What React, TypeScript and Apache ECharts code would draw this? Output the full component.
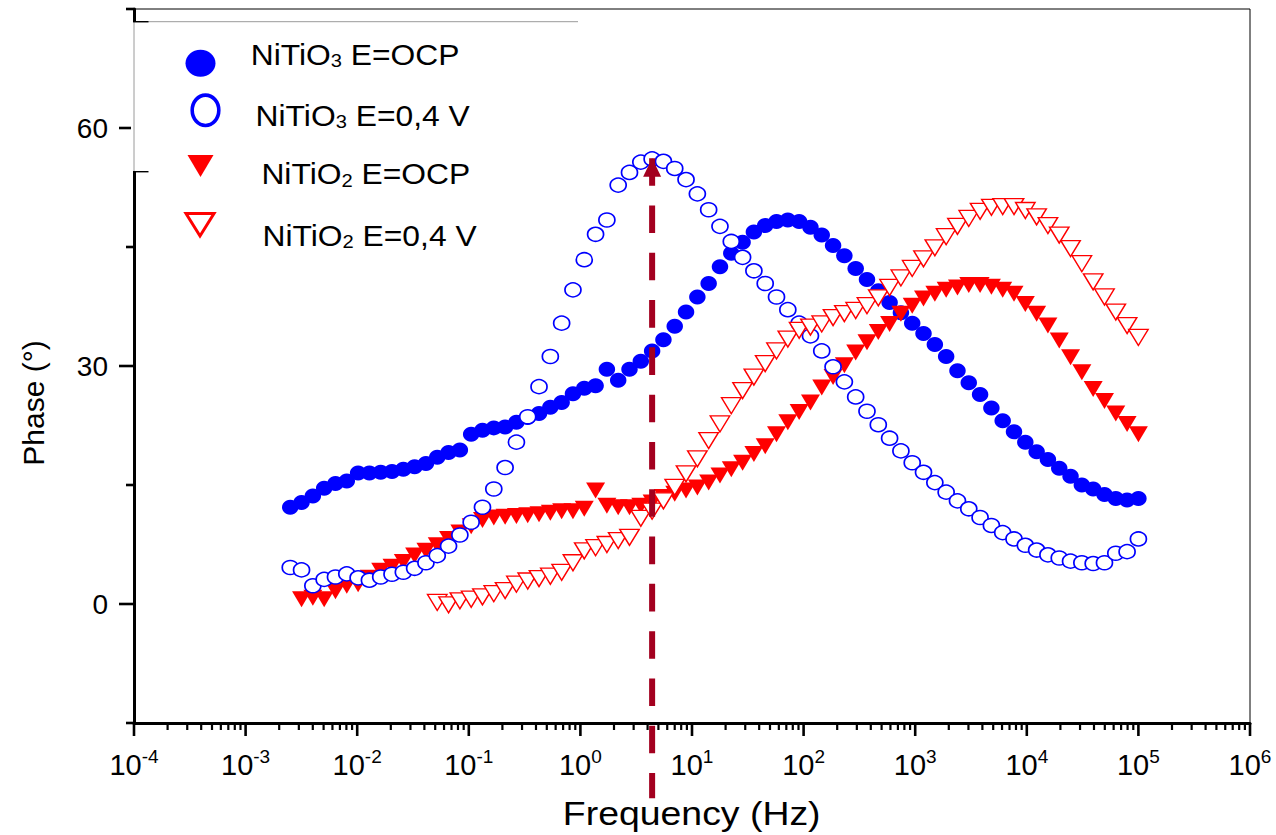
import React, { useEffect, useRef } from 'react';
import * as echarts from 'echarts';

// Measurement frequencies (Hz), 76-point logarithmic sweep, low to high
const FREQ_HZ = [
  0.002512, 0.003172, 0.004005, 0.005058, 0.006387, 0.008065, 0.01019, 0.01286, 0.01624, 0.02051,
  0.0259, 0.0327, 0.0413, 0.05215, 0.06586, 0.08318, 0.105, 0.1326, 0.1675, 0.2115,
  0.2671, 0.3373, 0.4259, 0.5378, 0.6792, 0.8577, 1.083, 1.368, 1.727, 2.181,
  2.754, 3.478, 4.392, 5.546, 7.003, 8.843, 11.17, 14.1, 17.81, 22.49,
  28.4, 35.86, 45.29, 57.19, 72.22, 91.2, 115.2, 145.4, 183.7, 231.9,
  292.9, 369.8, 467, 589.7, 744.7, 940.4, 1187, 1500, 1894, 2392,
  3020, 3814, 4816, 6081, 7679, 9698, 12250, 15460, 19530, 24660,
  31140, 39330, 49660, 62710, 79190, 100000,
];

// NiTiO3, E = OCP (all 76 frequencies)
const PHASE_NITIO3_OCP = [
  12.2, 12.8, 13.6, 14.6, 15.2, 15.5, 16.5, 16.5, 16.6, 16.7,
  17.0, 17.3, 17.7, 18.5, 19.1, 19.4, 21.4, 21.9, 22.2, 22.3,
  22.9, 23.5, 24.0, 24.8, 25.4, 26.5, 27.2, 27.5, 29.6, 28.2,
  29.6, 30.6, 31.9, 33.3, 35.0, 36.8, 38.7, 40.4, 42.5, 44.2,
  45.6, 46.9, 47.7, 48.2, 48.4, 48.2, 47.5, 46.5, 45.2, 43.9,
  42.3, 40.9, 39.5, 38.0, 36.7, 35.4, 34.1, 32.7, 31.2, 29.4,
  27.9, 26.4, 24.7, 23.1, 21.7, 20.4, 19.2, 18.2, 17.1, 16.1,
  15.0, 14.5, 13.8, 13.3, 13.1, 13.3,
];

// NiTiO3, E = 0,4 V (all 76 frequencies)
const PHASE_NITIO3_04V = [
  4.6, 4.3, 2.3, 3.1, 3.4, 3.8, 3.3, 3.0, 3.4, 3.75,
  4.0, 4.5, 5.2, 6.1, 7.3, 8.7, 10.3, 12.2, 14.5, 17.2,
  20.4, 23.6, 27.4, 31.2, 35.4, 39.6, 43.4, 46.6, 48.4, 52.8,
  54.4, 55.7, 56.1, 55.8, 54.9, 53.5, 51.7, 49.7, 47.6, 45.7,
  43.7, 42.0, 40.4, 38.7, 37.1, 35.4, 33.8, 31.9, 29.9, 28.0,
  26.1, 24.3, 22.6, 20.9, 19.3, 17.8, 16.6, 15.3, 14.1, 13.0,
  12.0, 10.9, 9.9, 9.0, 8.2, 7.4, 6.8, 6.2, 5.8, 5.4,
  5.2, 5.1, 5.2, 6.4, 6.6, 8.2,
];

// NiTiO2, E = OCP (frequencies from index 1)
const NITIO2_OCP_START = 1;
const PHASE_NITIO2_OCP = [
  0.6, 0.8, 0.6, 1.6, 2.3, 2.5, 3.3, 4.2, 4.7, 5.3,
  6.1, 6.7, 7.4, 8.2, 9.0, 9.8, 10.6, 10.9, 11.0, 11.1,
  11.2, 11.3, 11.5, 11.7, 11.7, 12.0, 14.3, 12.4, 12.2, 12.2,
  12.4, 12.8, 13.5, 13.9, 14.3, 14.7, 15.3, 16.2, 17.0, 17.8,
  18.9, 19.9, 21.4, 22.9, 24.2, 25.4, 27.3, 28.6, 30.1, 31.7,
  33.0, 34.3, 35.3, 36.6, 37.6, 38.5, 39.1, 39.6, 39.9, 40.2,
  40.2, 40.0, 39.6, 39.1, 37.8, 36.6, 35.1, 33.2, 31.1, 29.2,
  27.1, 25.6, 24.0, 22.7, 21.4,
];

// NiTiO2, E = 0,4 V (frequencies from index 13)
const NITIO2_04V_START = 13;
const PHASE_NITIO2_04V = [
  0.2, -0.1, 0.4, 0.6, 0.9, 1.3, 1.7, 2.5, 2.9, 3.2,
  3.5, 4.0, 5.2, 6.7, 7.1, 7.5, 8.0, 8.4, 10.8, 11.7,
  13.0, 14.7, 16.4, 18.3, 20.6, 22.7, 25.0, 26.9, 28.6, 30.3,
  31.9, 33.4, 34.5, 34.9, 35.3, 36.1, 36.6, 37.0, 37.6, 38.6,
  39.9, 41.1, 42.3, 43.5, 44.9, 46.3, 47.6, 48.6, 49.5, 50.0,
  50.1, 50.1, 49.6, 48.8, 47.7, 46.5, 44.8, 42.9, 40.6, 38.7,
  36.8, 35.1, 33.6,
];

const X_DECADES = [1e-4, 1e-3, 1e-2, 1e-1, 1, 10, 100, 1000, 1e4, 1e5, 1e6];
const X_MINOR_MULTIPLIERS = [2, 3, 4, 5, 6, 7, 8, 9];
const Y_MAJOR_TICKS = [0, 30, 60];
const Y_MINOR_TICKS = [-15, 15, 45, 75];
const Y_MIN = -15;
const Y_MAX = 75;

const ARROW_FREQ = 4.392;
const ARROW_TOP_PHASE = 56.2;
const ARROW_BOTTOM_PHASE = -24.5;

const LEGEND_LABELS = [
  { base: 'NiTiO', sub: '3', rest: ' E=OCP' },
  { base: 'NiTiO', sub: '3', rest: ' E=0,4 V' },
  { base: 'NiTiO', sub: '2', rest: ' E=OCP' },
  { base: 'NiTiO', sub: '2', rest: ' E=0,4 V' },
];

const FONT = '"Liberation Sans", Arial, Helvetica, sans-serif';
const BLUE = '#0000ff';
const RED = '#ff0000';
const ARROW_COLOR = '#a3001f';

function pairs(startIdx: number, values: number[]) {
  return values.map((v, i) => [FREQ_HZ[startIdx + i], v]);
}

export default function App() {
  const ref = useRef<HTMLDivElement>(null);

  useEffect(() => {
    const el = ref.current;
    if (!el) return;
    const chart = echarts.init(el, undefined, { renderer: 'svg' });

    const tickData: number[][] = [];
    X_DECADES.forEach((d) => tickData.push([d, Y_MIN, 0]));
    X_DECADES.slice(0, -1).forEach((d) =>
      X_MINOR_MULTIPLIERS.forEach((m) => tickData.push([d * m, Y_MIN, 1]))
    );
    Y_MAJOR_TICKS.forEach((v) => tickData.push([X_DECADES[0], v, 2]));
    Y_MINOR_TICKS.forEach((v) => tickData.push([X_DECADES[0], v, 3]));

    const option: any = {
      animation: false,
      backgroundColor: '#ffffff',
      grid: {
        left: 134,
        right: 26,
        top: 9,
        bottom: 112,
        show: true,
        borderColor: '#000',
        borderWidth: 1,
        backgroundColor: 'transparent',
      },
      xAxis: {
        type: 'log',
        logBase: 10,
        min: 1e-4,
        max: 1e6,
        splitNumber: 10,
        axisLine: { show: true, onZero: false, lineStyle: { color: '#000', width: 3 } },
        axisTick: { show: false },
        splitLine: { show: false },
        axisLabel: {
          margin: 24,
          fontSize: 29,
          formatter: (v: number) => `{b|10}{e|${Math.round(Math.log10(v))}}`,
          rich: {
            b: { fontSize: 29, fontFamily: FONT, color: '#000', lineHeight: 32, verticalAlign: 'bottom' },
            e: { fontSize: 19, fontFamily: FONT, color: '#000', lineHeight: 12, verticalAlign: 'top' },
          },
        },
      },
      yAxis: {
        type: 'value',
        min: Y_MIN,
        max: Y_MAX,
        interval: 15,
        axisLine: { show: true, onZero: false, lineStyle: { color: '#000', width: 3 } },
        axisTick: { show: false },
        splitLine: { show: false },
        axisLabel: {
          margin: 26,
          fontSize: 28,
          fontFamily: FONT,
          color: '#000',
          formatter: (v: number) => (Y_MAJOR_TICKS.includes(v) ? String(v) : ''),
        },
      },
      series: [
        {
          name: 'NiTiO3 E=OCP',
          type: 'scatter',
          data: pairs(0, PHASE_NITIO3_OCP),
          symbol: 'circle',
          symbolSize: [16.5, 15],
          itemStyle: { color: BLUE, opacity: 1 },
          emphasis: { disabled: true },
          z: 2,
        },
        {
          name: 'NiTiO2 E=OCP',
          type: 'scatter',
          data: pairs(NITIO2_OCP_START, PHASE_NITIO2_OCP),
          symbol: 'triangle',
          symbolRotate: 180,
          symbolSize: [19, 16],
          itemStyle: { color: RED, opacity: 1 },
          emphasis: { disabled: true },
          z: 3,
        },
        {
          name: 'NiTiO3 E=0,4 V',
          type: 'scatter',
          data: pairs(0, PHASE_NITIO3_04V),
          symbol: 'circle',
          symbolSize: [16, 14],
          itemStyle: { color: '#ffffff', borderColor: BLUE, borderWidth: 1.6, opacity: 1 },
          emphasis: { disabled: true },
          z: 4,
        },
        {
          name: 'NiTiO2 E=0,4 V',
          type: 'scatter',
          data: pairs(NITIO2_04V_START, PHASE_NITIO2_04V),
          symbol: 'triangle',
          symbolRotate: 180,
          symbolSize: [19.5, 16],
          itemStyle: { color: '#ffffff', borderColor: RED, borderWidth: 1.4, opacity: 1 },
          emphasis: { disabled: true },
          z: 5,
        },
        {
          name: 'ticks',
          type: 'custom',
          clip: false,
          silent: true,
          z: 6,
          data: tickData,
          renderItem: (params: any, api: any) => {
            const kind = api.value(2);
            const p = api.coord([api.value(0), api.value(1)]);
            if (kind < 2) {
              const len = kind === 0 ? 13 : 7;
              return {
                type: 'line',
                shape: { x1: p[0], y1: p[1], x2: p[0], y2: p[1] + len },
                style: { stroke: '#000', lineWidth: kind === 0 ? 2.6 : 2.2 },
              };
            }
            const len = kind === 2 ? 15 : 8;
            return {
              type: 'line',
              shape: { x1: p[0] - len, y1: p[1], x2: p[0], y2: p[1] },
              style: { stroke: '#000', lineWidth: 2.6 },
            };
          },
        },
      ],
    };

    chart.setOption(option);

    const top = chart.convertToPixel({ gridIndex: 0 }, [ARROW_FREQ, ARROW_TOP_PHASE]) as number[];
    const bot = chart.convertToPixel({ gridIndex: 0 }, [ARROW_FREQ, ARROW_BOTTOM_PHASE]) as number[];

    const legendRows = [
      { tx: 250.7, base: 62.3 },
      { tx: 255.6, base: 123.3 },
      { tx: 261.4, base: 181.7 },
      { tx: 262.5, base: 243.3 },
    ];
    const legendFont = 30;
    const rich = {
      n: { fontSize: legendFont, fontFamily: FONT, color: '#000', lineHeight: 36, verticalAlign: 'bottom' },
      s: { fontSize: 19, fontFamily: FONT, color: '#000', lineHeight: 10, verticalAlign: 'bottom' },
    };
    const legendTexts = LEGEND_LABELS.map((l, i) => ({
      type: 'text',
      id: 'lt' + i,
      x: legendRows[i].tx,
      y: legendRows[i].base - 0.3465 * legendFont,
      z: 120,
      scaleX: 1.06,
      style: {
        text: `{n|${l.base}}{s|${l.sub}}{n|${l.rest}}`,
        rich,
        textAlign: 'left',
        textVerticalAlign: 'middle',
      },
    }));

    const graphics: any[] = [
      { type: 'rect', id: 'lbox', z: 100, shape: { x: 131, y: 21.7, width: 447, height: 150 }, style: { fill: '#fff' } },
      { type: 'line', id: 'lboxTop', z: 101, shape: { x1: 134, y1: 21.7, x2: 578, y2: 21.7 }, style: { stroke: '#9a9a9a', lineWidth: 1 } },
      { type: 'line', id: 'lboxLeft', z: 101, shape: { x1: 134, y1: 21.7, x2: 134, y2: 171.7 }, style: { stroke: '#9a9a9a', lineWidth: 1 } },
      { type: 'line', id: 'lboxT1', z: 102, shape: { x1: 133, y1: 21.7, x2: 148.5, y2: 21.7 }, style: { stroke: '#000', lineWidth: 1.4 } },
      { type: 'line', id: 'lboxT2', z: 102, shape: { x1: 133, y1: 171.7, x2: 148.5, y2: 171.7 }, style: { stroke: '#000', lineWidth: 1.4 } },
      { type: 'ellipse', id: 'lm0', z: 110, shape: { cx: 200.5, cy: 63.3, rx: 15, ry: 13.5 }, style: { fill: BLUE } },
      { type: 'ellipse', id: 'lm1', z: 110, shape: { cx: 205.5, cy: 110.3, rx: 13.3, ry: 15.2 }, style: { fill: '#fff', stroke: BLUE, lineWidth: 3.6 } },
      { type: 'polygon', id: 'lm2', z: 110, shape: { points: [[187.5, 155], [213.5, 155], [200.5, 177]] }, style: { fill: RED } },
      { type: 'polygon', id: 'lm3', z: 110, shape: { points: [[186, 213.5], [214, 213.5], [200, 236]] }, style: { fill: '#fff', stroke: RED, lineWidth: 3 } },
      ...legendTexts,
      {
        type: 'line',
        id: 'arrowShaft',
        z: 90,
        shape: { x1: top[0], y1: top[1], x2: bot[0], y2: bot[1] },
        style: { stroke: ARROW_COLOR, lineWidth: 6, lineDash: [27.6, 19.7] },
      },
      {
        type: 'polygon',
        id: 'arrowHead',
        z: 91,
        shape: { points: [[top[0], top[1]], [top[0] + 9, top[1] + 18.5], [top[0] - 9, top[1] + 18.5]] },
        style: { fill: ARROW_COLOR },
      },
      {
        type: 'text',
        id: 'xTitle',
        x: 691.7,
        y: 814,
        z: 120,
        scaleX: 1.1,
        style: { text: 'Frequency (Hz)', font: `34px ${FONT}`, fill: '#000', textAlign: 'center', textVerticalAlign: 'middle' },
      },
      {
        type: 'text',
        id: 'yTitle',
        x: 33,
        y: 403,
        z: 120,
        rotation: Math.PI / 2,
        style: { text: 'Phase (°)', font: `30px ${FONT}`, fill: '#000', textAlign: 'center', textVerticalAlign: 'middle' },
      },
    ];

    chart.setOption({ graphic: graphics });

    return () => chart.dispose();
  }, []);

  return <div ref={ref} style={{ position: 'fixed', left: 0, top: 0, width: 1276, height: 835 }} />;
}
